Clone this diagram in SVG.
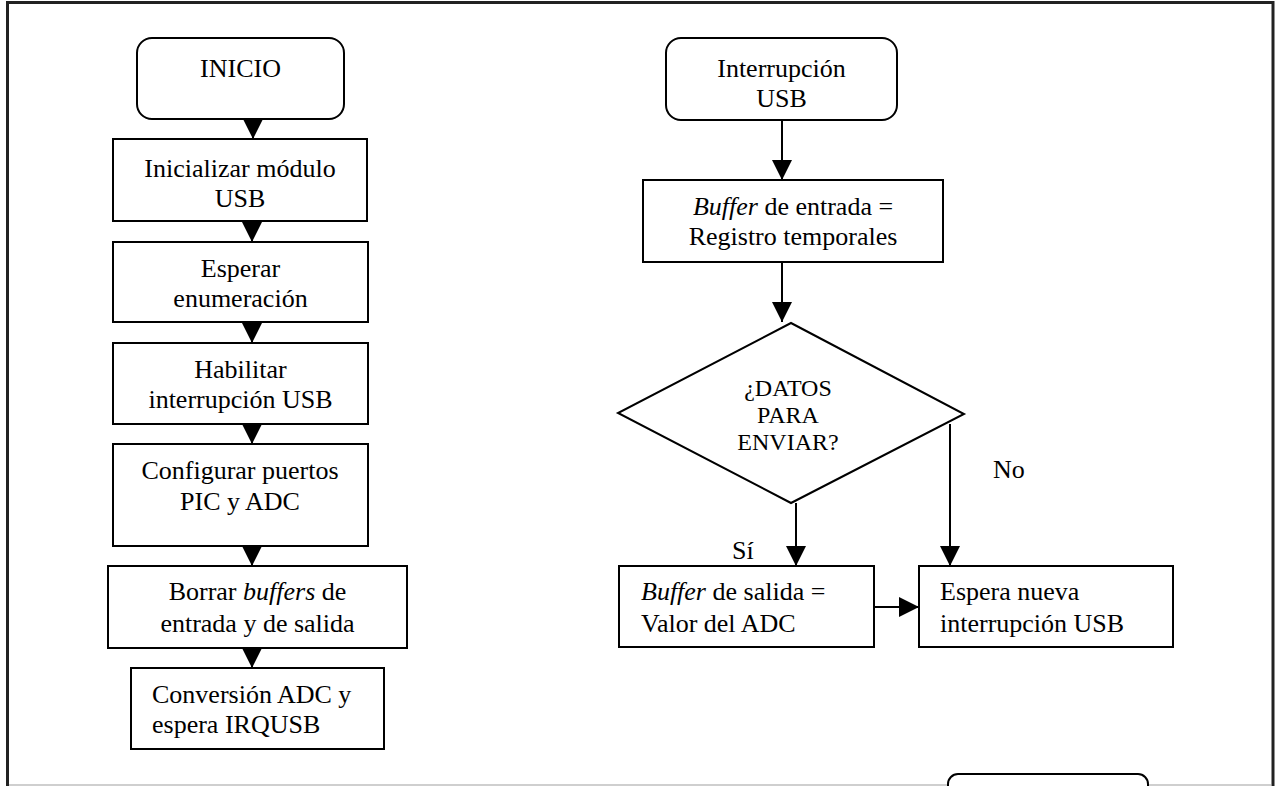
<svg xmlns="http://www.w3.org/2000/svg" width="1276" height="786" viewBox="0 0 1276 786">
  <style>
    .box { fill: #fff; stroke: #000; stroke-width: 2; }
    .t { font-family: "Liberation Serif", "Times New Roman", serif; font-size: 26px; fill: #000; }
    .c { text-anchor: middle; }
    .sm { font-size: 24px; }
    .conn { fill: none; stroke: #000; stroke-width: 2; }
  </style>
  <defs>
    <marker id="ah" markerUnits="userSpaceOnUse" markerWidth="20" markerHeight="20" viewBox="0 0 20 20" refX="20" refY="10" orient="auto">
      <path d="M0,0 L20,10 L0,20 Z" fill="#000"/>
    </marker>
  </defs>

  <rect width="1276" height="786" fill="#fff"/>

  <!-- page frame -->
  <path d="M7.5,786 V2.5 H1273 V786" fill="none" stroke="#222" stroke-width="3"/>
  <line x1="9" y1="785" x2="1271" y2="785" stroke="#cfcfcf" stroke-width="2"/>

  <!-- main routine -->
  <g id="inicio">
    <rect class="box" x="137" y="38" width="207" height="81" rx="15"/>
    <text class="t c" x="240.5" y="77">INICIO</text>
  </g>
  <g id="init-usb">
    <rect class="box" x="113" y="139" width="254" height="82"/>
    <text class="t c" x="240" y="177">Inicializar módulo</text>
    <text class="t c" x="240" y="207">USB</text>
  </g>
  <g id="wait-enum">
    <rect class="box" x="113" y="242" width="255" height="80"/>
    <text class="t c" x="240.5" y="277">Esperar</text>
    <text class="t c" x="240.5" y="307">enumeración</text>
  </g>
  <g id="enable-irq">
    <rect class="box" x="113" y="343" width="255" height="81"/>
    <text class="t c" x="240.5" y="378">Habilitar</text>
    <text class="t c" x="240.5" y="408">interrupción USB</text>
  </g>
  <g id="config-ports">
    <rect class="box" x="113" y="444" width="255" height="102"/>
    <text class="t c" x="240" y="479">Configurar puertos</text>
    <text class="t c" x="240" y="510">PIC y ADC</text>
  </g>
  <g id="clear-buffers">
    <rect class="box" x="108" y="566" width="299" height="82"/>
    <text class="t c" x="257.5" y="600">Borrar <tspan font-style="italic">buffers</tspan> de</text>
    <text class="t c" x="257.5" y="632">entrada y de salida</text>
  </g>
  <g id="adc-wait">
    <rect class="box" x="131" y="668" width="253" height="81"/>
    <text class="t" x="152" y="703">Conversión ADC y</text>
    <text class="t" x="152" y="733">espera IRQUSB</text>
  </g>

  <!-- USB interrupt routine -->
  <g id="usb-irq">
    <rect class="box" x="666" y="38" width="231" height="82" rx="15"/>
    <text class="t c" x="781.5" y="77">Interrupción</text>
    <text class="t c" x="781.5" y="107">USB</text>
  </g>
  <g id="in-buffer">
    <rect class="box" x="643" y="180" width="300" height="82"/>
    <text class="t c" x="793" y="215"><tspan font-style="italic">Buffer</tspan> de entrada =</text>
    <text class="t c" x="793" y="245">Registro temporales</text>
  </g>
  <g id="data-check">
    <polygon class="box" points="791,323 964,414 791,503 618,413"/>
    <text class="t sm c" x="788" y="396">¿DATOS</text>
    <text class="t sm c" x="788" y="423">PARA</text>
    <text class="t sm c" x="788" y="450">ENVIAR?</text>
  </g>
  <g id="out-buffer">
    <rect class="box" x="619" y="566" width="255" height="81"/>
    <text class="t" x="641" y="600"><tspan font-style="italic">Buffer</tspan> de salida =</text>
    <text class="t" x="641" y="632">Valor del ADC</text>
  </g>
  <g id="wait-next">
    <rect class="box" x="919" y="566" width="254" height="81"/>
    <text class="t" x="940" y="600">Espera nueva</text>
    <text class="t" x="940" y="632">interrupción USB</text>
  </g>
  <g id="next-page">
    <rect class="box" x="948" y="774" width="200" height="40" rx="10"/>
  </g>

  <!-- connectors -->
  <g id="connectors">
    <line class="conn" x1="253" y1="119" x2="253" y2="139" marker-end="url(#ah)"/>
    <line class="conn" x1="252" y1="221" x2="252" y2="242" marker-end="url(#ah)"/>
    <line class="conn" x1="252" y1="322" x2="252" y2="343" marker-end="url(#ah)"/>
    <line class="conn" x1="252" y1="424" x2="252" y2="444" marker-end="url(#ah)"/>
    <line class="conn" x1="252" y1="546" x2="252" y2="566" marker-end="url(#ah)"/>
    <line class="conn" x1="252" y1="648" x2="252" y2="668" marker-end="url(#ah)"/>

    <line class="conn" x1="782" y1="120" x2="782" y2="180" marker-end="url(#ah)"/>
    <line class="conn" x1="782" y1="262" x2="782" y2="322" marker-end="url(#ah)"/>
    <line class="conn" x1="796" y1="503" x2="796" y2="566" marker-end="url(#ah)"/>
    <line class="conn" x1="950" y1="424" x2="950" y2="566" marker-end="url(#ah)"/>
    <line class="conn" x1="874" y1="607" x2="919" y2="607" marker-end="url(#ah)"/>

    <text class="t" x="732" y="559">Sí</text>
    <text class="t" x="993" y="478">No</text>
  </g>
</svg>
